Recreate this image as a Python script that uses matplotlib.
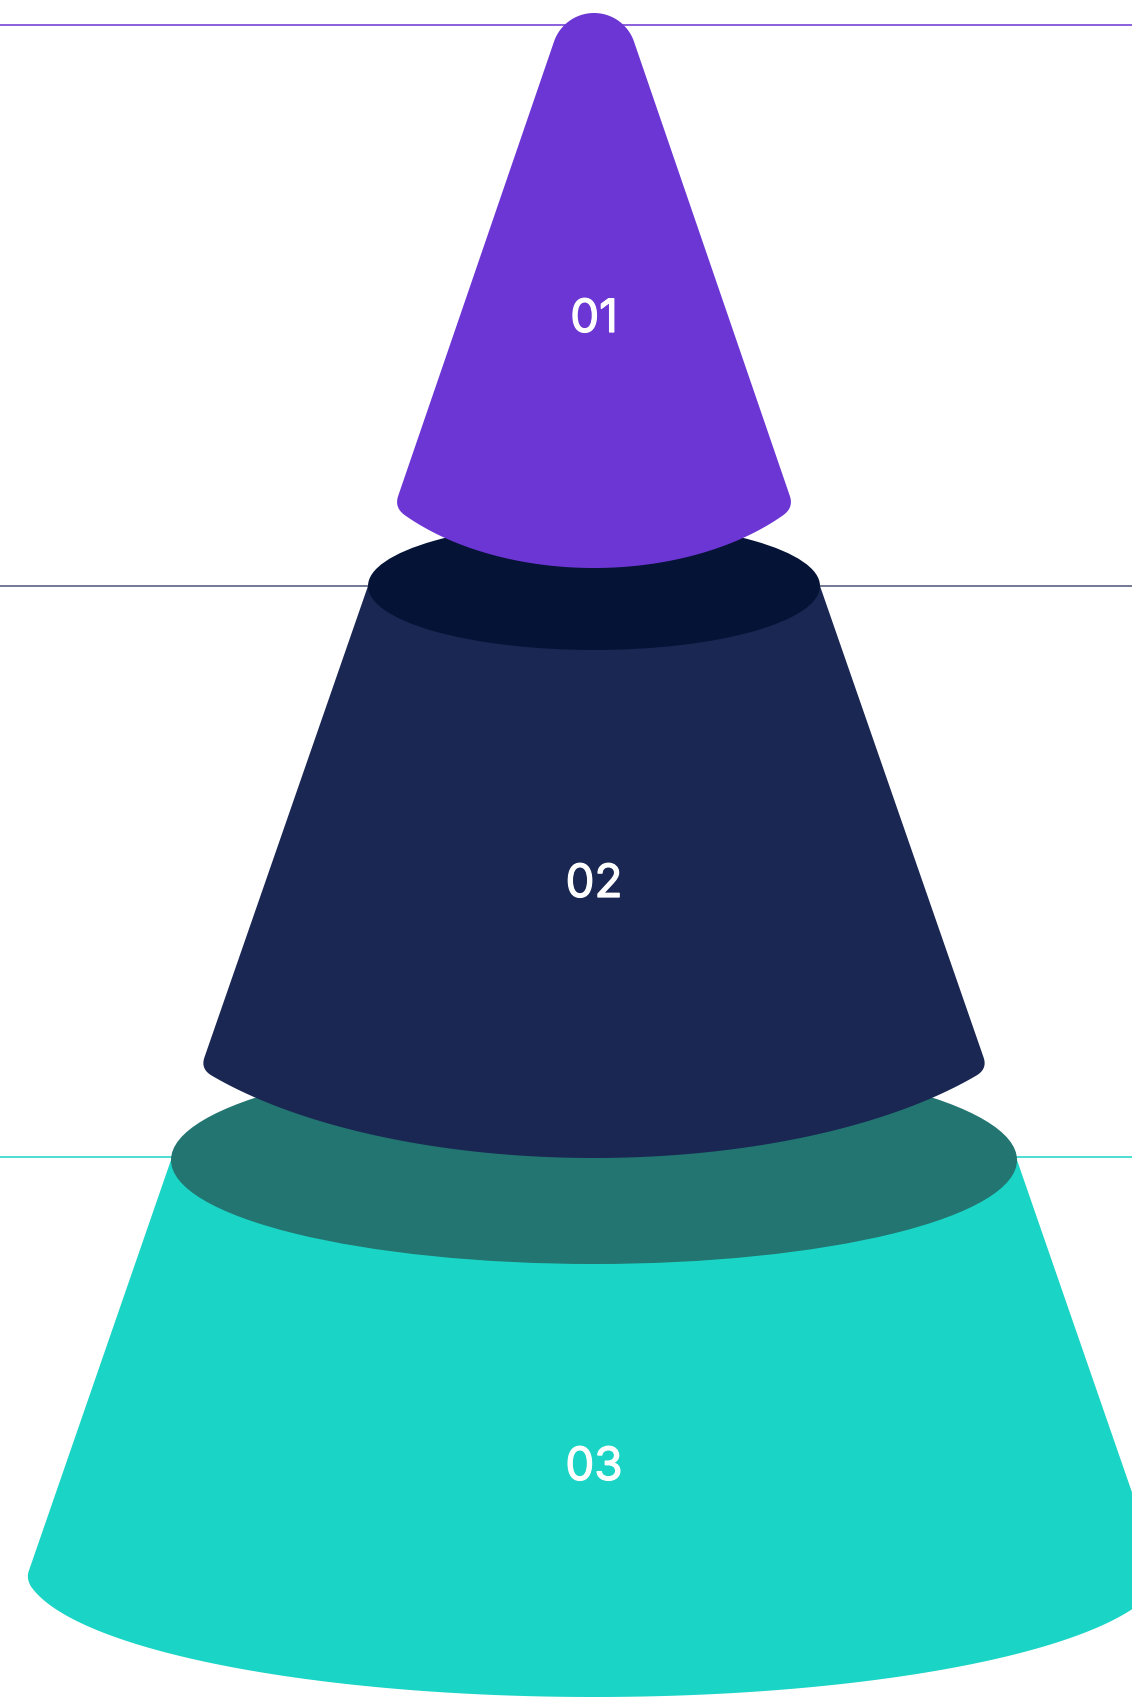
import numpy as np
import matplotlib.pyplot as plt
import matplotlib.patheffects as pe
from matplotlib.patches import Polygon, Ellipse

W, H = 1132, 1698
CX = 594

# content
labels = ['01', '02', '03']
body_colors = ['#6b36d3', '#1a2753', '#1ad4c6']
cap_colors = [None, '#051436', '#227570']
line_colors = ['#6b36d3', '#4a5474', '#1ad4c6']

# layout in pixels (y grows downwards)
line_y = [25, 586, 1157]
label_base = [332, 897, 1480]
top_y = [None, 586, 1160]
top_hw = [None, 226, 423]
cap_b = [None, 64, 104]
slope = [0.343, 0.347, 0.346]
bottom = [(415.5, 250, 152.5), (961, 470, 197), (1566, 570, 131)]  # cy, a, b
corner_r = [12, 12, 7]
tip_top, apex_y = 13, -75


def fillet(p_in, corner, p_out, n=16):
    t = np.linspace(0, 1, n)[:, None]
    return (1 - t) ** 2 * p_in + 2 * (1 - t) * t * corner + t ** 2 * p_out


def side_and_bottom(y0, hw0, s, cy, a, b, r):
    """left side from (y0, hw0) down to the bottom ellipse, arc, right side up"""
    ys = np.linspace(y0, cy + b, 6000)
    hw = hw0 + s * (ys - y0)
    ey = cy + b * np.sqrt(np.clip(1 - (hw / a) ** 2, 0, None))
    k = np.argmax(ey - ys <= 0)
    yc, hwc = ys[k], hw[k]

    xs = np.linspace(-hwc, hwc, 800)
    arc = np.column_stack([CX + xs, cy + b * np.sqrt(np.clip(1 - (xs / a) ** 2, 0, None))])
    cl = np.array([CX - hwc, yc])
    cr = np.array([CX + hwc, yc])
    tl = np.array([CX - hw0, y0])
    tr = np.array([CX + hw0, y0])

    keep = (np.hypot(*(arc - cl).T) > r) & (np.hypot(*(arc - cr).T) > r)
    arc = arc[keep]
    pin_l = cl + r * (tl - cl) / np.linalg.norm(tl - cl)
    pin_r = cr + r * (tr - cr) / np.linalg.norm(tr - cr)

    pts = [tl[None], fillet(pin_l, cl, arc[0]), arc, fillet(arc[-1], cr, pin_r), tr[None]]
    return np.vstack(pts)


fig = plt.figure(figsize=(W / 100, H / 100), dpi=100)
ax = fig.add_axes([0, 0, 1, 1])
ax.set_xlim(0, W)
ax.set_ylim(H, 0)
ax.axis('off')

for y, c in zip(line_y, line_colors):
    ax.axhline(y, color=c, lw=1.1, zorder=1)

# layers drawn from the bottom up so upper ones overlap
for i in [2, 1]:
    cy, a, b = bottom[i]
    pts = side_and_bottom(top_y[i], top_hw[i], slope[i], cy, a, b, corner_r[i])
    ax.add_patch(Polygon(pts, closed=True, fc=body_colors[i], ec='none', zorder=2 + 2 * (2 - i)))
    ax.add_patch(Ellipse((CX, top_y[i]), 2 * top_hw[i], 2 * cap_b[i],
                         fc=cap_colors[i], ec='none', zorder=3 + 2 * (2 - i)))

# top layer with rounded tip
s = slope[0]
sin_t = s / np.sqrt(1 + s * s)
cos2 = 1 / (1 + s * s)
d = (tip_top - apex_y) / (1 - sin_t)
yc_tip = apex_y + d
r_tip = d * sin_t
yt = apex_y + d * cos2
hwt = s * (yt - apex_y)
cy, a, b = bottom[0]
body = side_and_bottom(yt, hwt, s, cy, a, b, corner_r[0])
phi = np.linspace(np.arctan2(yt - yc_tip, hwt), np.arctan2(yt - yc_tip, -hwt), 80)
cap = np.column_stack([CX + r_tip * np.cos(phi), yc_tip + r_tip * np.sin(phi)])
ax.add_patch(Polygon(np.vstack([body, cap]), closed=True, fc=body_colors[0], ec='none', zorder=6))

for lab, yb in zip(labels, label_base):
    ax.text(CX, yb, lab, color='white', fontsize=33,
            family=['Inter', 'DejaVu Sans'], ha='center', va='baseline', zorder=10,
            path_effects=[pe.withStroke(linewidth=0.9, foreground='white')])

fig.savefig('out.png', dpi=100, facecolor='white')
